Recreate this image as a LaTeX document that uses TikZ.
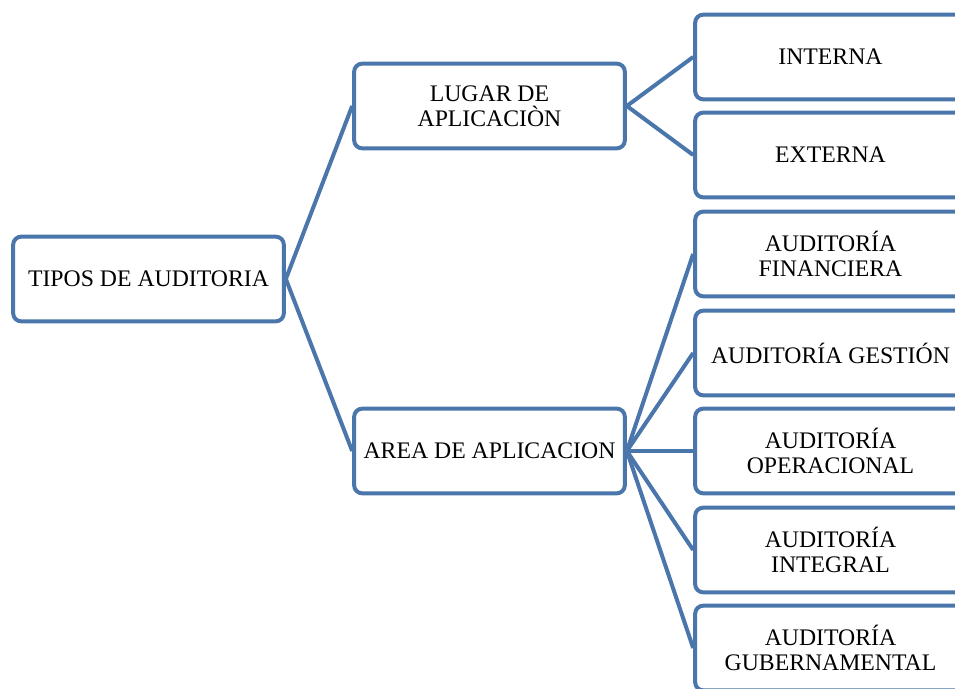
\documentclass[tikz,border=0pt]{standalone}
\usepackage{fontspec}
\setmainfont{Liberation Serif}
\definecolor{boxblue}{HTML}{4A76AC}
\begin{document}
\begin{tikzpicture}[x=0.75pt,y=-0.75pt,
  box/.style={draw=boxblue,line width=3pt,rounded corners=6pt,fill=white,
    minimum width=203pt,minimum height=63.5pt,align=center,
    font=\fontsize{17.8}{18.75}\selectfont},
  link/.style={draw=boxblue,line width=3pt}]
\useasboundingbox (0,0) rectangle (955,688);
% Root and second level
\node[box] (tipos) at (148.5,279) {TIPOS DE AUDITORIA};
\node[box] (lugar) at (489.5,106) {LUGAR DE\\APLICACIÒN};
\node[box] (area) at (489.5,451) {AREA DE APLICACION};
\draw[link] (tipos.east) -- (lugar.west);
\draw[link] (tipos.east) -- (area.west);
% Lugar de aplicacion
\node[box] (interna) at (830.5,57) {INTERNA};
\node[box] (externa) at (830.5,155) {EXTERNA};
\draw[link] (lugar.east) -- (interna.west);
\draw[link] (lugar.east) -- (externa.west);
% Area de aplicacion
\foreach \name/\y/\txt in {financiera/254/{AUDITORÍA\\FINANCIERA},
    gestion/353/{AUDITORÍA GESTIÓN},
    operacional/451/{AUDITORÍA\\OPERACIONAL},
    integral/550/{AUDITORÍA\\INTEGRAL},
    gubernamental/648/{AUDITORÍA\\GUBERNAMENTAL}} {
  \node[box] (\name) at (830.5,\y) {\txt};
  \draw[link] (area.east) -- (\name.west);
}
\end{tikzpicture}
\end{document}
